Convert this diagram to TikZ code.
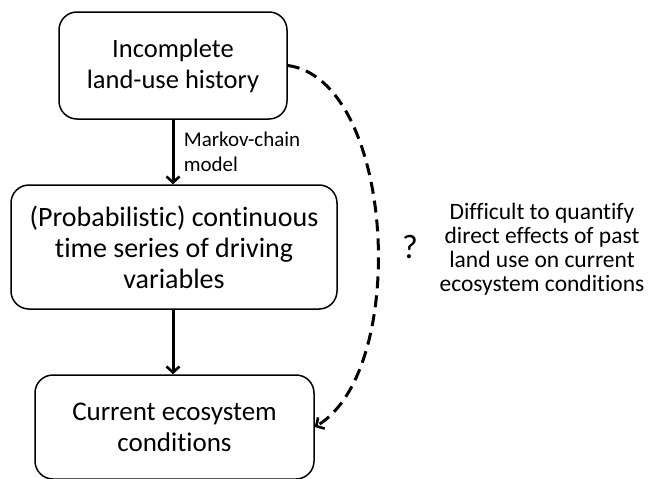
\documentclass[tikz,border=0pt]{standalone}
\usepackage{fontspec}
\setmainfont{Carlito}[Ligatures=NoCommon]
\usepackage{tikz}
\usetikzlibrary{arrows.meta}

\tikzset{
	box/.style={draw, rounded corners=18pt, line width=1.5pt, align=center, inner sep=0pt,
		font=\fontsize{26.5}{31}\selectfont},
	small/.style={font=\fontsize{21}{25}\selectfont},
	note/.style={font=\fontsize{23.5}{24}\selectfont}
}

\begin{document}
\begin{tikzpicture}[x=1pt, y=-1pt, >={Straight Barb[length=6pt, width=13pt, line width=2.6pt]}]
					\useasboundingbox (0, 0) rectangle (648, 479);
					
					\node[box, minimum width=228pt, minimum height=107pt] (History) at (173, 65.5) {Incomplete\\land-use history};
					\node[box, minimum width=326pt, minimum height=124pt, font=\fontsize{28}{31}\selectfont] (Series) at (174, 247) {(Probabilistic) continuous\\time series of driving\\variables};
					\node[box, minimum width=279pt, minimum height=104pt, font=\fontsize{27}{31}\selectfont] (Current) at (174.5, 427) {Current ecosystem\\conditions};
					
					\draw[->, line width=3pt] (History.south -| 173, 0) -- (Series.north -| 173, 0)
						node[midway, right, small, align=left, xshift=6pt] {Markov-chain\\model};
					\draw[->, line width=3pt] (Series.south -| 173, 0) -- (Current.north -| 173, 0);
					
					\draw[->, line width=3pt, dash pattern=on 12pt off 7pt]
						(History.east) .. controls (395, 80) and (410, 370) .. (Current.east);
					
					\node[font=\fontsize{34}{38}\selectfont] (Question) at (410, 247) {?};
					\node[note, align=center] (Note) at (542, 249) {Difficult to quantify\\direct effects of past\\land use on current\\ecosystem conditions};
\end{tikzpicture}
\end{document}
